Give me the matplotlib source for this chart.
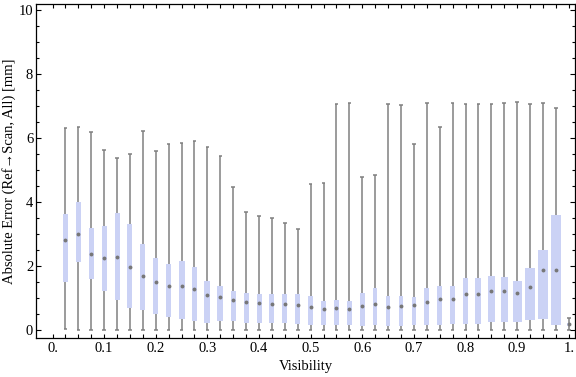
import numpy as np
import matplotlib
matplotlib.use('Agg')
import matplotlib.pyplot as plt

plt.rcParams['font.family'] = ['Liberation Serif', 'DejaVu Serif']

# Box-whisker summary per visibility bin
visibility = [0.025, 0.05, 0.075, 0.1, 0.125, 0.15, 0.175, 0.2, 0.225, 0.25,
              0.275, 0.3, 0.325, 0.35, 0.375, 0.4, 0.425, 0.45, 0.475, 0.5,
              0.525, 0.55, 0.575, 0.6, 0.625, 0.65, 0.675, 0.7, 0.725, 0.75,
              0.775, 0.8, 0.825, 0.85, 0.875, 0.9, 0.925, 0.95, 0.975, 1.0]
whisker_hi = [6.32, 6.35, 6.20, 5.63, 5.38, 5.51, 6.23, 5.60, 5.83, 5.86,
              5.91, 5.71, 5.44, 4.47, 3.69, 3.56, 3.50, 3.34, 3.16, 4.57,
              4.60, 7.05, 7.10, 4.79, 4.85, 7.07, 7.02, 5.82, 7.10, 6.35,
              7.10, 7.07, 7.07, 7.07, 7.10, 7.14, 7.07, 7.10, 6.95, 0.37]
q3 = [3.63, 4.00, 3.19, 3.26, 3.67, 3.32, 2.70, 2.26, 2.08, 2.16,
      1.97, 1.54, 1.38, 1.22, 1.16, 1.13, 1.13, 1.13, 1.13, 1.07,
      0.91, 0.94, 0.90, 1.16, 1.32, 1.06, 1.07, 1.03, 1.31, 1.38,
      1.38, 1.63, 1.63, 1.69, 1.66, 1.54, 1.94, 2.51, 3.60, 0.23]
median = [2.81, 3.01, 2.37, 2.25, 2.29, 1.97, 1.70, 1.50, 1.39, 1.38,
          1.29, 1.10, 1.02, 0.94, 0.87, 0.84, 0.83, 0.83, 0.77, 0.73,
          0.66, 0.68, 0.66, 0.74, 0.82, 0.73, 0.76, 0.80, 0.89, 0.97,
          0.98, 1.12, 1.14, 1.22, 1.21, 1.16, 1.36, 1.87, 1.89, 0.18]
q1 = [1.51, 2.12, 1.61, 1.23, 0.95, 0.70, 0.62, 0.51, 0.41, 0.34,
      0.29, 0.23, 0.29, 0.29, 0.21, 0.23, 0.23, 0.23, 0.20, 0.17,
      0.17, 0.17, 0.15, 0.13, 0.16, 0.13, 0.13, 0.17, 0.16, 0.17,
      0.19, 0.20, 0.20, 0.26, 0.26, 0.26, 0.32, 0.35, 0.17, 0.13]
whisker_lo = [0.02] + [0.0] * 39
# box widths vary per bin (in visibility units)
box_width = [0.0083, 0.0091, 0.0097, 0.0102, 0.0097, 0.0097, 0.0097, 0.0097, 0.0091, 0.0116,
             0.0116, 0.0116, 0.0116, 0.0097, 0.0097, 0.0097, 0.0097, 0.0097, 0.0097, 0.0097,
             0.0097, 0.0097, 0.0087, 0.0087, 0.0087, 0.0087, 0.0077, 0.0077, 0.0097, 0.0102,
             0.0102, 0.0110, 0.0116, 0.0135, 0.0141, 0.0174, 0.0193, 0.0212, 0.0193, 0.0064]

x = np.array(visibility)
fig = plt.figure(figsize=(5.76, 3.77), dpi=100)
ax = fig.add_axes([36/576, (377-337.5)/377, (575-36)/576, (337.5-4)/377])

gray = '#808080'
cap = 0.0035
ax.vlines(x, whisker_lo, whisker_hi, color=gray, lw=1.1, zorder=1)
ax.hlines(whisker_hi, x - cap, x + cap, color=gray, lw=1.1, zorder=1)
ax.hlines(whisker_lo, x - cap, x + cap, color=gray, lw=1.1, zorder=1)
ax.bar(x, np.array(q3) - np.array(q1), bottom=q1, width=box_width,
       color='#cbd2f5', edgecolor='none', zorder=2)
ax.plot(x, median, 'o', ms=2.8, color='#777777', mec='none', zorder=3)

ax.set_xlim(-0.032, 1.012)
ax.set_ylim(-0.23, 10.19)

xt = np.arange(0, 41) * 0.025
xlab = []
for v in xt:
    if abs(v * 10 - round(v * 10)) < 1e-6:
        s = '%.1f' % v
        if s in ('0.0', '1.0'):
            s = s[0] + '.'
        xlab.append(s)
    else:
        xlab.append('')
ax.set_xticks(xt)
ax.set_xticklabels(xlab)
ax.set_yticks([0, 2, 4, 6, 8, 10])
ax.set_yticks(np.arange(0, 10.01, 0.5), minor=True)

ax.tick_params(axis='both', which='both', direction='in', top=True, right=True,
               labelsize=10.5, color='black', width=0.8)
ax.tick_params(axis='x', which='major', length=3, pad=3.5)
ax.tick_params(axis='y', which='major', length=3.5, pad=2)
ax.tick_params(axis='y', which='minor', length=2)
for sp in ax.spines.values():
    sp.set_linewidth(0.9)

ax.set_xlabel('Visibility', fontsize=10.5, labelpad=3)
ax.set_ylabel('Absolute Error (Ref\u2192Scan, All) [mm]', fontsize=10.5, labelpad=2)

fig.savefig('out.png', dpi=100)
